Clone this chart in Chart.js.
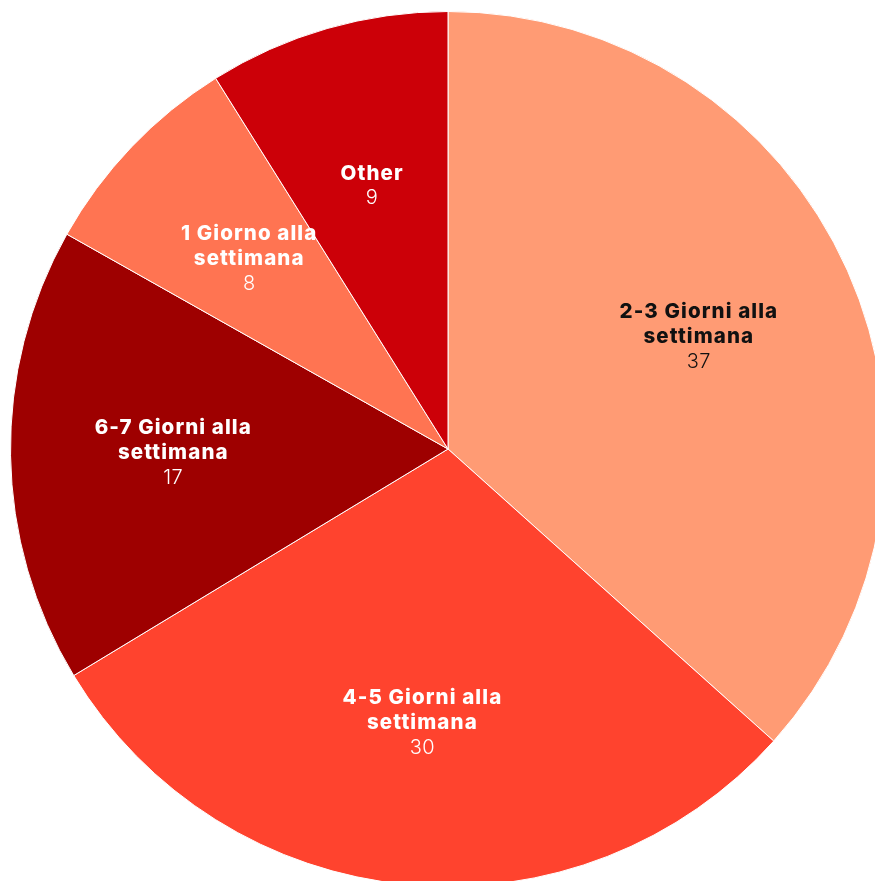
<!DOCTYPE html>
<html>
<head>
<meta charset="utf-8">
<script src="https://cdn.jsdelivr.net/npm/chart.js"></script>
<style>
  html, body { margin: 0; padding: 0; background: #fff; overflow: hidden; width: 875px; height: 881px; }
  #wrap { position: absolute; left: 10px; top: 11px; width: 876px; height: 876px; }
</style>
</head>
<body>
<div id="wrap"><canvas id="pie"></canvas></div>
<script>
  // dati
  const labels = [
    ['2-3 Giorni alla', 'settimana'],
    ['4-5 Giorni alla', 'settimana'],
    ['6-7 Giorni alla', 'settimana'],
    ['1 Giorno alla', 'settimana'],
    ['Other']
  ];
  const values = [37, 30, 17, 8, 9];
  const colors = ['#FF9B74', '#FF432E', '#9E0000', '#FF7452', '#CC0008'];
  const textColors = ['#111111', '#ffffff', '#ffffff', '#ffffff', '#ffffff'];

  const sliceLabels = {
    id: 'sliceLabels',
    afterDatasetsDraw(chart) {
      const ctx = chart.ctx;
      const meta = chart.getDatasetMeta(0);
      meta.data.forEach((arc, i) => {
        const mid = (arc.startAngle + arc.endAngle) / 2;
        const r = arc.outerRadius * 0.628;
        const x = arc.x + Math.cos(mid) * r;
        const y = arc.y + Math.sin(mid) * r;
        const lines = labels[i];
        const lh = 25;
        const total = lines.length + 1;
        let yy = y - (total - 1) * lh / 2;
        if (lines.length === 1) yy = y - lh / 2 + 1;
        ctx.save();
        ctx.fillStyle = textColors[i];
        ctx.textAlign = 'center';
        ctx.textBaseline = 'middle';
        ctx.letterSpacing = '1.1px';
        ctx.font = '800 20.5px Inter, "Noto Sans", sans-serif';
        lines.forEach(l => { ctx.fillText(l, x, yy); yy += lh; });
        ctx.letterSpacing = '0.5px';
        ctx.font = '300 20px Inter, "Noto Sans", sans-serif';
        ctx.fillText(String(values[i]), x, yy);
        ctx.restore();
      });
    }
  };

  new Chart(document.getElementById('pie'), {
    type: 'pie',
    data: {
      labels: labels.map(l => l.join(' ')),
      datasets: [{
        data: values,
        backgroundColor: colors,
        borderColor: '#ffffff',
        borderWidth: 1,
        hoverOffset: 0
      }]
    },
    options: {
      responsive: true,
      maintainAspectRatio: false,
      animation: false,
      layout: { padding: 0 },
      plugins: { legend: { display: false }, tooltip: { enabled: false } }
    },
    plugins: [sliceLabels]
  });
</script>
</body>
</html>
